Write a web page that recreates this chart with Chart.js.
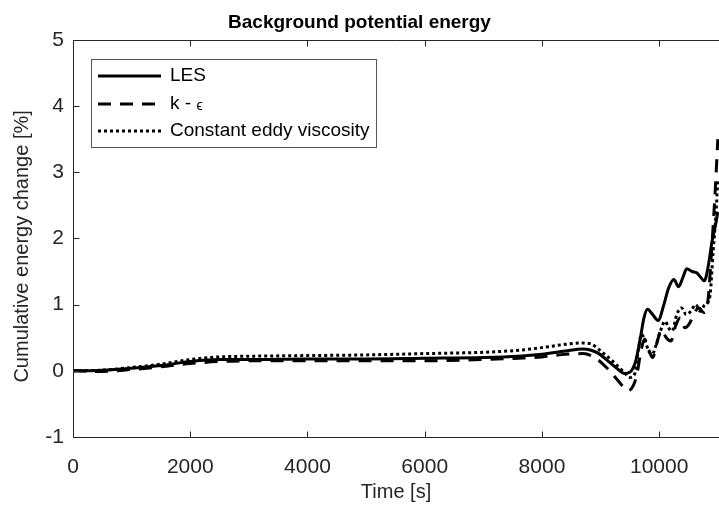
<!DOCTYPE html>
<html>
<head>
<meta charset="utf-8">
<title>Background potential energy</title>
<script src="https://cdn.jsdelivr.net/npm/chart.js@4.4.0/dist/chart.umd.min.js"></script>
<style>
    html, body { margin: 0; padding: 0; background: #fff; }
</style>
</head>
<body>
<canvas id="bpeChart" width="719" height="507"></canvas>
<script>
// =========================
// Data
// =========================
const seriesLabels = ['LES', 'k - ϵ', 'Constant eddy viscosity'];

const lesTime = [0, 500, 1000, 1500, 2000, 2500, 3000, 4000, 5000, 6000, 7000, 7600, 8000, 8400, 8700,
    8950, 9150, 9300, 9400, 9500, 9600, 9680, 9740, 9800, 9880, 9980, 10080, 10160, 10250, 10330,
    10400, 10470, 10560, 10640, 10700, 10770, 10840, 10900, 10960, 11000];
const lesValues = [0, 0.01, 0.04, 0.08, 0.14, 0.17, 0.17, 0.18, 0.18, 0.19, 0.2, 0.22, 0.25, 0.3, 0.33,
    0.27, 0.13, 0.02, -0.04, -0.02, 0.15, 0.5, 0.8, 0.93, 0.86, 0.76, 1.0, 1.25, 1.38, 1.27,
    1.4, 1.54, 1.5, 1.48, 1.42, 1.36, 1.6, 1.95, 2.2, 2.4];

const keTime = [0, 500, 1000, 1500, 2000, 2500, 3000, 4000, 5000, 6000, 7000, 7600, 8000, 8400, 8700,
    8900, 9100, 9300, 9470, 9560, 9620, 9690, 9750, 9820, 9890, 9960, 10040, 10120, 10200, 10280,
    10360, 10440, 10520, 10600, 10680, 10760, 10830, 10900, 10960, 11000];
const keValues = [0, -0.01, 0.02, 0.06, 0.11, 0.14, 0.15, 0.15, 0.15, 0.15, 0.17, 0.19, 0.21, 0.25, 0.26,
    0.2, 0.05, -0.15, -0.3, -0.22, -0.05, 0.3, 0.48, 0.32, 0.2, 0.42, 0.62, 0.5, 0.45, 0.68,
    0.8, 0.65, 0.72, 0.88, 0.95, 0.88, 1.05, 1.9, 2.8, 3.5];

const cevTime = [0, 500, 1000, 1500, 2000, 2500, 3000, 4000, 5000, 6000, 7000, 7600, 8000, 8400, 8700,
    8850, 9000, 9200, 9400, 9500, 9580, 9640, 9700, 9760, 9820, 9880, 9950, 10020, 10100, 10160,
    10220, 10300, 10380, 10460, 10540, 10620, 10700, 10780, 10860, 10920, 10970, 11000];
const cevValues = [0, 0.01, 0.05, 0.1, 0.17, 0.21, 0.22, 0.23, 0.24, 0.26, 0.28, 0.31, 0.35, 0.4, 0.42,
    0.4, 0.3, 0.15, -0.02, -0.1, -0.05, 0.3, 0.55, 0.45, 0.3, 0.25, 0.4, 0.6, 0.75, 0.65,
    0.6, 0.85, 0.95, 0.85, 0.9, 1.0, 0.9, 1.0, 1.1, 1.8, 2.4, 2.9];

const xTicks = [0, 2000, 4000, 6000, 8000, 10000];
const yTicks = [-1, 0, 1, 2, 3, 4, 5];

// =========================
// Styling
// =========================
const FONT = "'Liberation Sans', Arial, Helvetica, sans-serif";
const AXIS_COLOR = '#262626';

function toPoints(times, values) {
    return times.map((t, i) => ({ x: t, y: values[i] }));
}

// =========================
// Frame, inward ticks, y label and legend box (MATLAB look)
// the original figure is cropped on the right, so no right axis
// =========================
const matlabFrame = {
    id: 'matlabFrame',
    afterDatasetsDraw(chart) {
        const { ctx, chartArea: a, scales } = chart;
        const tick = 6;
        ctx.save();
        ctx.strokeStyle = AXIS_COLOR;
        ctx.lineWidth = 1;

        const left = Math.round(a.left) + 0.5;
        const top = Math.round(a.top) + 0.5;
        const bottom = Math.round(a.bottom) + 0.5;

        // left, bottom and top axis lines
        ctx.beginPath();
        ctx.moveTo(a.right, top); ctx.lineTo(left, top);
        ctx.lineTo(left, bottom); ctx.lineTo(a.right, bottom);

        // inward ticks
        scales.x.ticks.forEach(t => {
            const px = Math.round(scales.x.getPixelForValue(t.value)) + 0.5;
            ctx.moveTo(px, bottom); ctx.lineTo(px, bottom - tick);
            ctx.moveTo(px, top); ctx.lineTo(px, top + tick);
        });
        scales.y.ticks.forEach(t => {
            const py = Math.round(scales.y.getPixelForValue(t.value)) + 0.5;
            ctx.moveTo(left, py); ctx.lineTo(left + tick, py);
        });
        ctx.stroke();

        // y axis label (sits a bit below the axis centre in the original)
        ctx.save();
        ctx.translate(22, (a.top + a.bottom) / 2 + 8);
        ctx.rotate(-Math.PI / 2);
        ctx.fillStyle = AXIS_COLOR;
        ctx.font = '20px ' + FONT;
        ctx.textAlign = 'center';
        ctx.textBaseline = 'middle';
        ctx.fillText('Cumulative energy change [%]', 0, 0);
        ctx.restore();

        // legend
        const box = { x: 91, y: 59, w: 285, h: 88 };
        ctx.fillStyle = '#fff';
        ctx.fillRect(box.x, box.y, box.w, box.h);
        ctx.strokeStyle = '#555';
        ctx.lineWidth = 1;
        ctx.strokeRect(box.x + 0.5, box.y + 0.5, box.w, box.h);

        const rowY = [76, 104, 131];
        chart.data.datasets.forEach((ds, i) => {
            const y = rowY[i];
            ctx.strokeStyle = ds.borderColor;
            ctx.lineWidth = ds.borderWidth;
            ctx.setLineDash(ds.borderDash || []);
            ctx.beginPath();
            ctx.moveTo(98, y);
            ctx.lineTo(161, y);
            ctx.stroke();
            ctx.setLineDash([]);

            ctx.fillStyle = '#000';
            ctx.textBaseline = 'middle';
            ctx.textAlign = 'left';
            const m = ds.label.match(/^(.*?)(ϵ)$/);
            ctx.font = '19px ' + FONT;
            if (m) {
                ctx.fillText(m[1], 170, y);
                const w = ctx.measureText(m[1]).width;
                ctx.font = '14px ' + FONT;
                ctx.fillText(m[2], 170 + w, y + 2);
            } else {
                ctx.fillText(ds.label, 170, y);
            }
        });
        ctx.restore();
    }
};

// =========================
// Chart
// =========================
const lineStyles = [[], [13, 9], [3, 3]];
const seriesData = [
    toPoints(lesTime, lesValues),
    toPoints(keTime, keValues),
    toPoints(cevTime, cevValues)
];

new Chart(document.getElementById('bpeChart'), {
    type: 'line',
    data: {
        datasets: seriesLabels.map((label, i) => ({
            label: label,
            data: seriesData[i],
            borderColor: '#000',
            borderWidth: 3,
            borderDash: lineStyles[i],
            pointRadius: 0,
            fill: false,
            cubicInterpolationMode: 'monotone'
        }))
    },
    options: {
        responsive: false,
        animation: false,
        layout: { padding: { left: 0, right: 0, top: 0, bottom: 0 } },
        plugins: {
            legend: { display: false },
            tooltip: { enabled: false },
            title: {
                display: true,
                text: 'Background potential energy',
                color: '#000',
                font: { family: FONT, size: 19, weight: 'bold' },
                padding: { top: 11, bottom: 6 }
            }
        },
        scales: {
            x: {
                type: 'linear',
                min: 0,
                max: 11020,
                afterBuildTicks: s => { s.ticks = xTicks.map(v => ({ value: v })); },
                afterFit: s => { s.height = 70; },
                grid: { display: false, drawTicks: false },
                border: { display: false },
                ticks: {
                    autoSkip: false,
                    padding: 18,
                    maxRotation: 0,
                    color: AXIS_COLOR,
                    font: { family: FONT, size: 21 },
                    callback: v => String(v)
                },
                title: {
                    display: true,
                    text: 'Time [s]',
                    color: AXIS_COLOR,
                    font: { family: FONT, size: 20 },
                    padding: { top: 0, bottom: 3 }
                }
            },
            y: {
                min: -1,
                max: 5,
                afterBuildTicks: s => { s.ticks = yTicks.map(v => ({ value: v })); },
                afterFit: s => { s.width = 73; },
                grid: { display: false, drawTicks: false },
                border: { display: false },
                ticks: {
                    autoSkip: false,
                    padding: 9,
                    color: AXIS_COLOR,
                    font: { family: FONT, size: 21 }
                }
            }
        }
    },
    plugins: [matlabFrame]
});
</script>
</body>
</html>
